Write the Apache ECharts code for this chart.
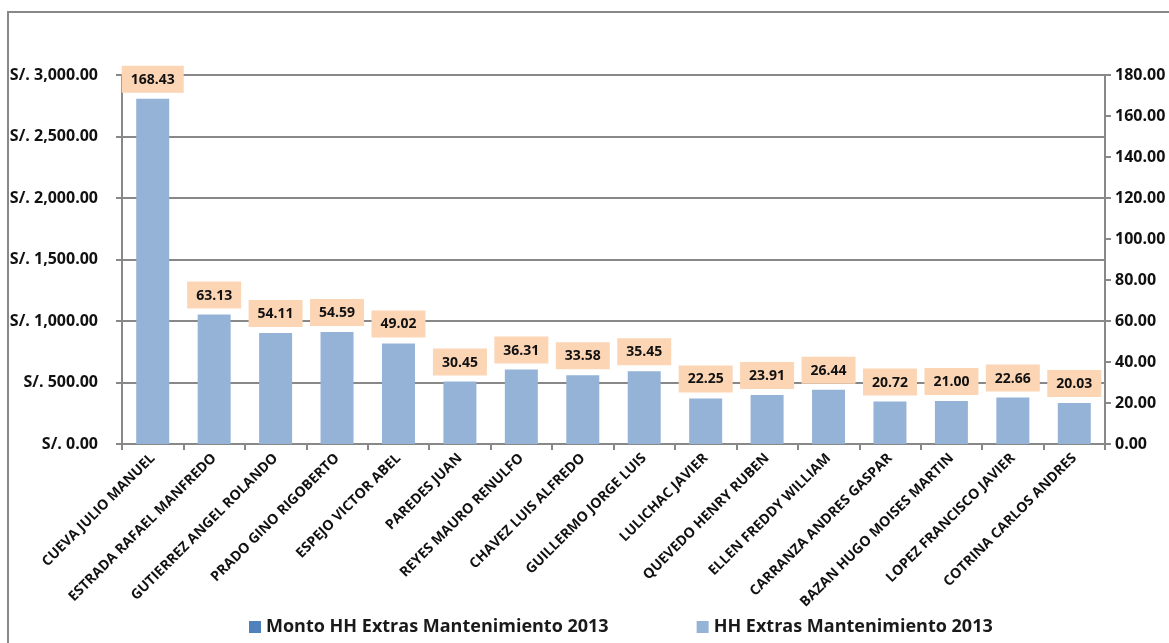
<!DOCTYPE html>
<html><head><meta charset="utf-8">
<script src="https://cdn.jsdelivr.net/npm/echarts@6/dist/echarts.min.js"></script>
<style>html,body{margin:0;padding:0;background:#fff}#c{width:1169px;height:643px}</style>
</head><body><div id="c"></div>
<script>
const categories = ["CUEVA JULIO MANUEL","ESTRADA RAFAEL MANFREDO","GUTIERREZ ANGEL ROLANDO","PRADO GINO RIGOBERTO","ESPEJO VICTOR ABEL","PAREDES JUAN","REYES MAURO RENULFO","CHAVEZ LUIS ALFREDO","GUILLERMO JORGE LUIS","LULICHAC JAVIER","QUEVEDO HENRY RUBEN","ELLEN FREDDY WILLIAM","CARRANZA ANDRES GASPAR","BAZAN HUGO MOISES MARTIN","LOPEZ FRANCISCO JAVIER","COTRINA CARLOS ANDRES"];
const hhExtras = [168.43,63.13,54.11,54.59,49.02,30.45,36.31,33.58,35.45,22.25,23.91,26.44,20.72,21.00,22.66,20.03];
const montoExtras = [];
const seriesNames = ["Monto HH Extras Mantenimiento 2013","HH Extras Mantenimiento 2013"];

const FONT = '"Open Sans", "Noto Sans", sans-serif';
const GRAY = '#888888';
function soles(v){
  const s = v.toFixed(2).split('.');
  return 'S/. ' + s[0].replace(/\B(?=(\d{3})+(?!\d))/g, ',') + '.' + s[1];
}
const chart = echarts.init(document.getElementById('c'));
chart.setOption({
  backgroundColor:'#fff',
  animation:false,
  graphic:[{type:'rect',shape:{x:8,y:12,width:1200,height:700},style:{fill:'none',stroke:GRAY,lineWidth:2},silent:true}],
  grid:{left:122,right:64,top:75,bottom:199},
  legend:{left:244,top:613,itemGap:88,itemWidth:12,itemHeight:12,icon:'rect',
    textStyle:{fontFamily:FONT,fontWeight:'bold',fontSize:18,color:'#1a1a1a'},
    data:seriesNames},
  xAxis:{type:'category',data:categories,
    axisLine:{lineStyle:{color:GRAY,width:2}},
    axisTick:{show:true,length:6,interval:0,lineStyle:{color:GRAY,width:2}},
    axisLabel:{rotate:45,interval:0,margin:12,fontFamily:FONT,fontWeight:'bold',fontSize:14,color:'#111'}},
  yAxis:[
    {type:'value',min:0,max:3000,interval:500,
     axisLine:{show:true,lineStyle:{color:GRAY,width:2}},
     axisTick:{show:true,length:6,lineStyle:{color:GRAY,width:2}},
     splitLine:{show:true,lineStyle:{color:GRAY,width:2}},
     axisLabel:{formatter:soles,margin:24,fontFamily:FONT,fontWeight:'bold',fontSize:16,color:'#111'}},
    {type:'value',min:0,max:180,interval:20,position:'right',
     axisLine:{show:true,lineStyle:{color:GRAY,width:2}},
     axisTick:{show:true,length:6,lineStyle:{color:GRAY,width:2}},
     splitLine:{show:false},
     axisLabel:{formatter:v=>v.toFixed(2),margin:10,fontFamily:FONT,fontWeight:'bold',fontSize:16,color:'#111'}}
  ],
  series:[
    {name:seriesNames[0],type:'bar',yAxisIndex:0,data:montoExtras,barWidth:33,barGap:'-100%',itemStyle:{color:'#4F81BD'}},
    {name:seriesNames[1],type:'bar',yAxisIndex:1,data:hhExtras,barWidth:33,barGap:'-100%',z:3,
     itemStyle:{color:'#95B3D7'},
     label:{show:true,position:'top',distance:6,formatter:p=>p.value.toFixed(2),
       backgroundColor:'#FCD5B5',padding:[7,9,6,9],fontFamily:FONT,fontWeight:'bold',fontSize:14,color:'#111'}}
  ]
});
</script></body></html>
